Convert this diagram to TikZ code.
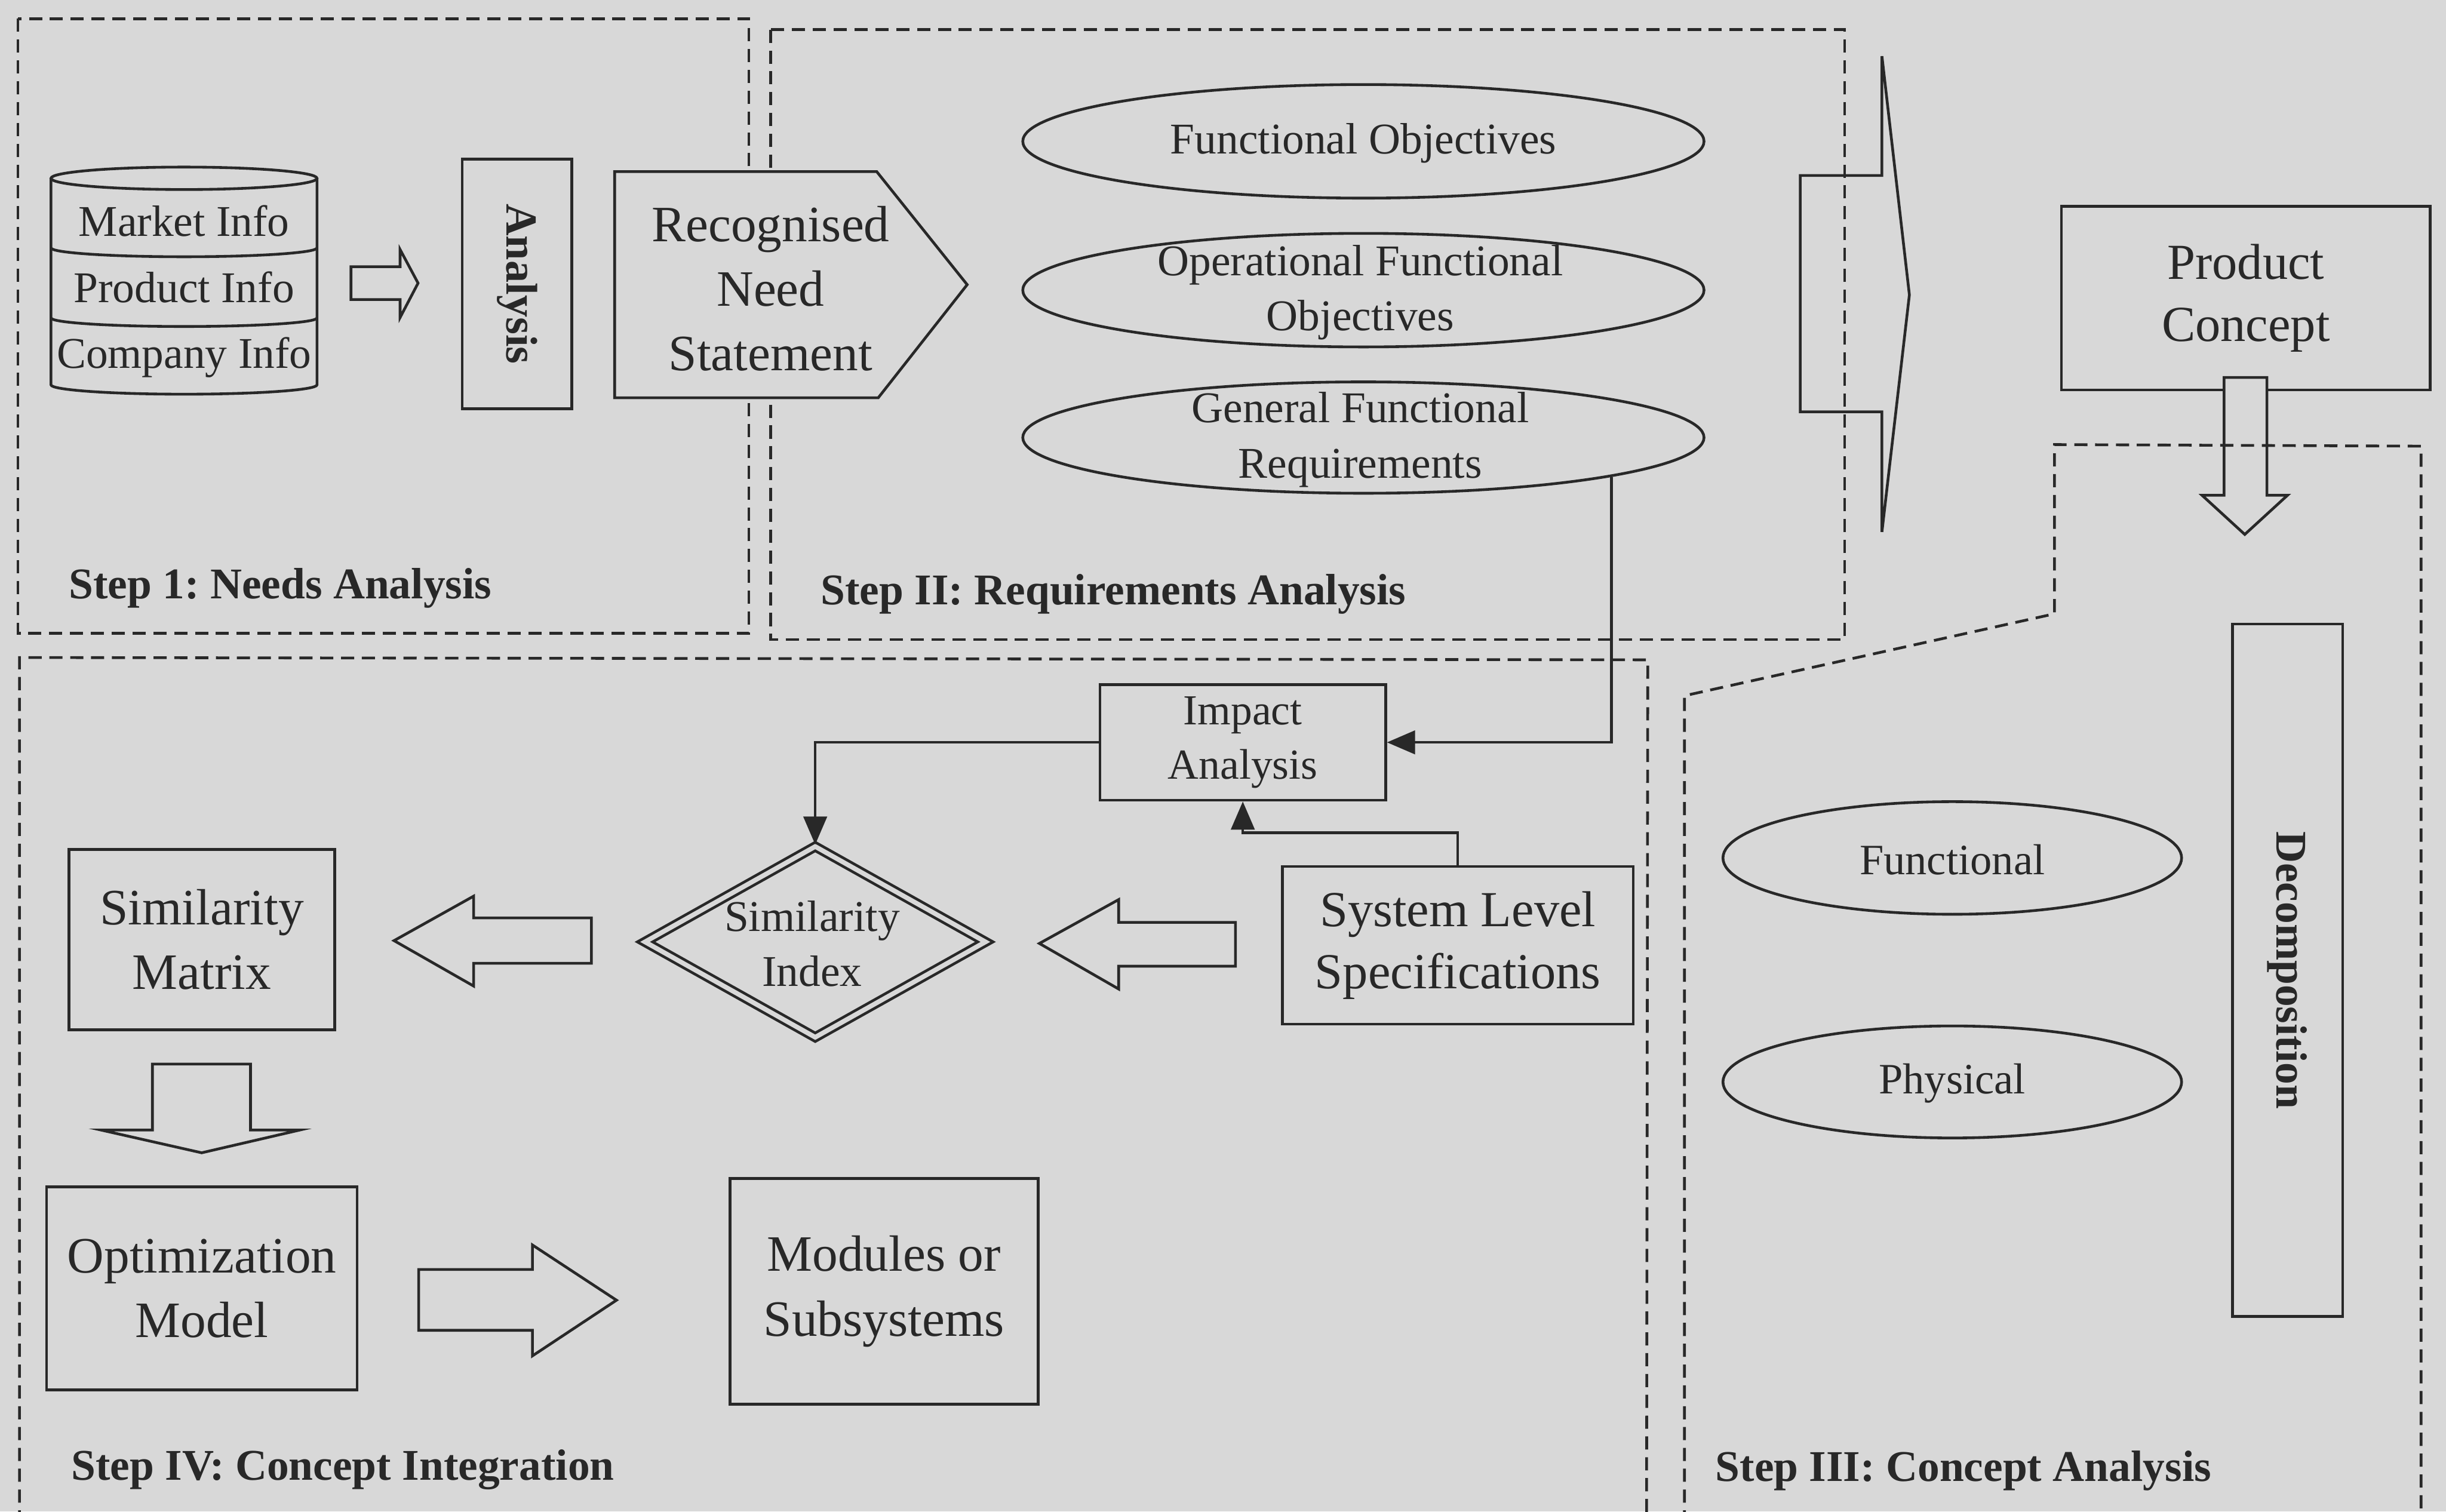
\documentclass[tikz,border=0pt]{standalone}
\usepackage{fontspec}
\setmainfont{Liberation Serif}
\usetikzlibrary{shapes.geometric,arrows.meta}
\definecolor{paper}{RGB}{216,216,216}
\definecolor{ink}{RGB}{40,40,40}
\frenchspacing

\tikzset{
  line/.style={draw=ink, line width=0.5pt},
  box/.style={line, rectangle, inner sep=0pt, align=center, fill=paper},
  oval/.style={line, ellipse, inner sep=0pt},
  txt/.style={inner sep=0pt, align=center},
  frame/.style={draw=ink, line width=0.5pt, dash pattern=on 2.4pt off 1.4pt},
  hollow/.style={draw=ink, line width=0.5pt, fill=paper, line join=miter},
  link/.style={draw=ink, line width=0.5pt, -{Triangle[length=1.8mm,width=1.5mm]}},
  steplabel/.style={anchor=west, inner sep=0pt, font=\bfseries\fontsize{8}{9.6}\selectfont},
  small/.style={font=\fontsize{8}{10.1}\selectfont},
  large/.style={font=\fontsize{9.3}{11.8}\selectfont},
}

\begin{document}
\begin{tikzpicture}[x=0.1mm, y=-0.1mm, color=ink]
\useasboundingbox (0,0) rectangle (1568,969);
\fill[paper] (0,0) rectangle (1568,969);
\clip (0,0) rectangle (1568,969);

% ---------- Step 1: needs analysis ----------
% information store (cylinder with three layers)
\draw[line] (32.7,114.3) -- (32.7,246.7)
  arc[start angle=180, end angle=360, x radius=8.525mm, y radius=0.6mm]
  -- (203.2,114.3);
\draw[line] (117.95,114.3) ellipse [x radius=8.525mm, y radius=0.72mm];
\draw[line] (32.7,158.9) arc[start angle=180, end angle=360, x radius=8.525mm, y radius=0.57mm];
\draw[line] (32.7,203.8) arc[start angle=180, end angle=360, x radius=8.525mm, y radius=0.55mm];
\node[small] (market)  at (118,141.6) {Market Info};
\node[small] (product) at (118,184)   {Product Info};
\node[small] (company) at (118,229)   {Company Info};

\draw[hollow] (225,171) -- (256.5,171) -- (256.5,160) -- (268,181.5)
  -- (256.5,203.5) -- (256.5,192) -- (225,192) -- cycle;

\node[box, rotate=-90, minimum width=16mm, minimum height=7.03mm,
      font=\bfseries\fontsize{8.1}{9.7}\selectfont] (analysis) at (331.5,182) {Analysis};

% ---------- Step II: requirements analysis ----------
\node[oval, minimum width=43.67mm, minimum height=7.28mm] (fobj) at (874,90.6) {};
\node[txt, small] (fobjtext) at (874,92) {Functional Objectives};
\node[oval, minimum width=43.67mm, minimum height=7.28mm] (opobj) at (874,186) {};
\node[txt, small] (opobjtext) at (872,187.5) {Operational Functional\\Objectives};
\node[oval, minimum width=43.67mm, minimum height=7.14mm] (genreq) at (874,280.5) {};
\node[txt, small] (genreqtext) at (872,282) {General Functional\\Requirements};

% transfer arrow towards the product concept
\draw[hollow] (1154,112.5) -- (1206.4,112.5) -- (1206.4,36) -- (1224,189)
  -- (1206.4,341) -- (1206.4,264) -- (1154,264) -- cycle;

\node[box, minimum width=23.64mm, minimum height=11.77mm,
      font=\fontsize{9.2}{11.3}\selectfont] (concept) at (1439.7,191.2) {Product\\Concept};
\draw[hollow] (1425.7,242) -- (1425.7,317.5) -- (1411.6,317.5) -- (1439,342.6)
  -- (1466.4,317.5) -- (1453.2,317.5) -- (1453.2,242) -- cycle;

% ---------- Step III: concept analysis ----------
\node[oval, minimum width=29.4mm, minimum height=7.22mm] (func) at (1251.5,550) {};
\node[txt, font=\fontsize{7.9}{9.5}\selectfont] (functext) at (1251.5,551) {Functional};
\node[oval, minimum width=29.4mm, minimum height=7.18mm] (phys) at (1251.5,693.6) {};
\node[txt, font=\fontsize{7.9}{9.5}\selectfont] (physText) at (1251.5,694.5) {Physical};
\node[box, rotate=-90, minimum width=44.4mm, minimum height=7.07mm,
      font=\bfseries\fontsize{8}{9.6}\selectfont] (decomp) at (1466.4,622) {Decomposition};

% ---------- Step IV: concept integration ----------
\node[box, minimum width=18.31mm, minimum height=7.41mm,
      font=\fontsize{7.8}{9.9}\selectfont] (impact) at (796.7,475.9) {Impact\\Analysis};
\node[line, diamond, double=paper, double distance=0.3mm, inner sep=0pt,
      minimum width=21.9mm, minimum height=12.3mm] (simidx) at (522.6,603.8) {};
\node[txt, small] (simidxtext) at (520.6,605) {Similarity\\Index};
\node[box, minimum width=22.49mm, minimum height=10.11mm,
      font=\fontsize{9.2}{11.4}\selectfont] (syslevel) at (934.5,606) {System Level\\Specifications};
\node[box, large, minimum width=17.03mm, minimum height=11.56mm] (simmatrix) at (129.4,602.4) {Similarity\\Matrix};
\node[box, large, minimum width=19.91mm, minimum height=13.02mm] (optim) at (129.4,826) {Optimization\\Model};
\node[box, large, minimum width=19.76mm, minimum height=14.48mm] (modules) at (566.7,827.8) {Modules or\\Subsystems};

\draw[hollow] (666.3,604.8) -- (717.1,576.7) -- (717.1,591.3) -- (792,591.3)
  -- (792,619.4) -- (717.1,619.4) -- (717.1,634) -- cycle;
\draw[hollow] (252.6,603) -- (303.6,574.5) -- (303.6,588.4) -- (379.1,588.4)
  -- (379.1,617.5) -- (303.6,617.5) -- (303.6,632.1) -- cycle;
\draw[hollow] (97.7,682.1) -- (160.6,682.1) -- (160.6,724.4) -- (192.2,724.4)
  -- (129.3,739) -- (64.7,724.4) -- (97.7,724.4) -- cycle;
\draw[hollow] (268.4,813.8) -- (341.3,813.8) -- (341.3,798.1) -- (395.2,833.5)
  -- (341.3,869.2) -- (341.3,852.8) -- (268.4,852.8) -- cycle;

% connectors
\draw[link] (genreq.-9.4) |- (impact.east);
\draw[link] (impact.west) -| (simidx.north);
\draw[link] (syslevel.north) -- ++(0,-20.7) -| (impact.south);

% ---------- step frames ----------
\draw[frame] (11.5,12) rectangle (480,406);
\draw[frame] (494,19) rectangle (1182.5,410);
\draw[frame] (12.5,990) -- (12.5,421.5) -- (1056.3,423) -- (1055.5,990);
\draw[frame] (1079.8,990) -- (1079.8,446) -- (1317,393.5) -- (1317,285)
  -- (1552,286) -- (1552,990);

% recognised need (drawn over the frame borders)
\draw[line, fill=paper, line join=miter] (394,110) -- (562,110) -- (620,182.5)
  -- (563,255) -- (394,255) -- cycle;
\node[txt, large] (need) at (494,185) {Recognised\\Need\\Statement};

% step captions
\node[steplabel] (s1) at (43.5,377) {Step 1: Needs Analysis};
\node[steplabel] (s2) at (525.5,381) {Step II: Requirements Analysis};
\node[steplabel] (s4) at (45,942) {Step IV: Concept Integration};
\node[steplabel] (s3) at (1099,943) {Step III: Concept Analysis};
\end{tikzpicture}
\end{document}
